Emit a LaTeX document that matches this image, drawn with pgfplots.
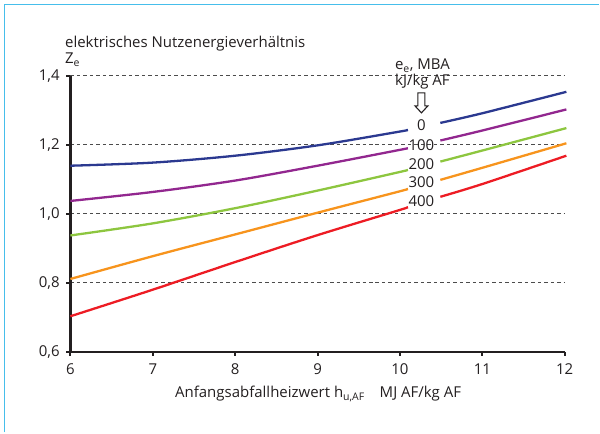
\documentclass[border=0pt]{standalone}
\usepackage{fontspec}
\setmainfont{Open Sans}
\usepackage{pgfplots}
\pgfplotsset{compat=1.18}
\definecolor{cblue}{RGB}{43,57,144}
\definecolor{cpurple}{RGB}{146,39,143}
\definecolor{cgreen}{RGB}{141,198,63}
\definecolor{corange}{RGB}{247,148,29}
\definecolor{cred}{RGB}{237,28,36}
\definecolor{framec}{RGB}{70,190,235}
\definecolor{axisc}{RGB}{35,31,32}
\begin{document}
\fontsize{15}{18}\selectfont
\begin{tikzpicture}[x=1pt,y=1pt]
\begin{axis}[
  at={(0,0)}, anchor=south west,
  scale only axis, width=495pt, height=276.6pt,
  xmin=6, xmax=12, ymin=0.6, ymax=1.4,
  axis x line=bottom, axis y line=left,
  axis line style={-, line width=2.4pt, color=axisc},
  xtick={6,7,8,9,10,11,12},
  ytick={0.6,0.8,1.0,1.2,1.4},
  tick align=outside, major tick length=4pt,
  tick style={line width=2pt, color=axisc},
  ymajorgrids,
  major grid style={dash pattern=on 3.5pt off 3pt, line width=0.8pt, color=black!70},
  /pgf/number format/assume math mode=true,
  yticklabel style={xshift=-1.5pt, /pgf/number format/.cd, use comma, fixed, fixed zerofill, precision=1},
  xticklabel style={yshift=-3pt},
  ticklabel style={font=\fontsize{15}{18}\selectfont, text=axisc},
  clip=false,
  every axis plot/.append style={line width=2.3pt, smooth},
]
\addplot[cblue] coordinates {(6,1.139) (7,1.148) (8,1.168) (9,1.198) (10,1.238) (10.08,1.242)};
\addplot[cblue] coordinates {(10.49,1.263) (11,1.291) (12.02,1.353)};
\addplot[cpurple] coordinates {(6,1.037) (7,1.063) (8,1.096) (9,1.139) (10,1.185) (10.08,1.189)};
\addplot[cpurple] coordinates {(10.49,1.212) (11,1.241) (12.02,1.302)};
\addplot[cgreen] coordinates {(6,0.937) (7,0.972) (8,1.016) (9,1.067) (10,1.121) (10.08,1.126)};
\addplot[cgreen] coordinates {(10.49,1.151) (11,1.183) (12.02,1.248)};
\addplot[corange] coordinates {(6,0.811) (7,0.877) (8,0.940) (9,1.003) (10,1.065) (10.08,1.071)};
\addplot[corange] coordinates {(10.49,1.098) (11,1.133) (12.02,1.204)};
\addplot[cred] coordinates {(6,0.703) (7,0.780) (8,0.860) (9,0.938) (10,1.011) (10.08,1.018)};
\addplot[cred] coordinates {(10.49,1.049) (11,1.086) (12.02,1.168)};
\end{axis}
\begin{scope}[shift={(-70.5,-80.7)}]
\path (0,0) rectangle (600,433);
\draw[framec, line width=1.6pt] (4.5,0) -- (4.5,428.3) -- (600,428.3);
\begin{scope}[every node/.style={text=axisc, inner sep=0pt}]
\node[anchor=base west] at (65,385) {elektrisches Nutzenergieverhältnis};
\node[anchor=base west] at (65,369) {Z\textsubscript{e}};
\node[anchor=base] at (423,363) {e\textsubscript{e}, MBA};
\node[anchor=base] at (423,347) {kJ/kg AF};
\node at (422,308) {0};
\node at (422,288) {100};
\node at (422,269) {200};
\node at (422,250.3) {300};
\node at (422,231.3) {400};
\node[anchor=base] at (318.5,35) {Anfangsabfallheizwert h\textsubscript{u,AF}\hspace{1em}MJ AF/kg AF};
\end{scope}
\draw[line width=1.1pt, axisc, fill=white] (418.5,340) -- (425.5,340) -- (425.5,327) -- (428.5,327) -- (422,320) -- (415.5,327) -- (418.5,327) -- cycle;
\end{scope}
\end{tikzpicture}
\end{document}
